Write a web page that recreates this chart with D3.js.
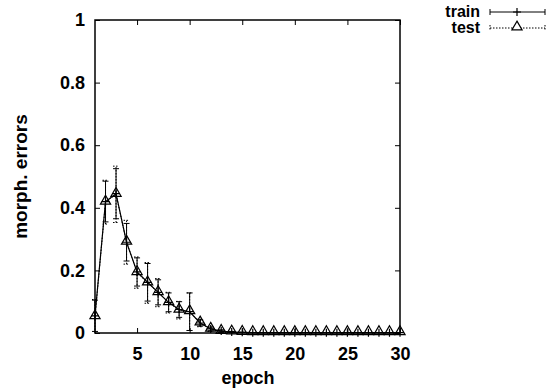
<!DOCTYPE html>
<html>
<head>
<meta charset="utf-8">
<script src="https://cdn.jsdelivr.net/npm/d3@7"></script>
<style>
body { margin: 0; background: #fff; }
text { font-family: "Liberation Sans", Arial, sans-serif; font-weight: bold; fill: #000; }
</style>
</head>
<body>
<script>
const width = 548, height = 389
const margin = {top: 20, right: 148, bottom: 56, left: 95}

const epochs = d3.range(1, 31)
const trainMean = [0.055, 0.42, 0.445, 0.29, 0.195, 0.162, 0.13, 0.098, 0.075, 0.068, 0.032, 0.013, 0.006, 0.003, 0.002,
    0.001, 0.001, 0.001, 0.001, 0.001, 0.001, 0.001, 0.001, 0.001, 0.001, 0.001, 0.001, 0.001, 0.001, 0.001]
const trainErr = [0.05, 0.065, 0.08, 0.06, 0.045, 0.06, 0.04, 0.03, 0.025, 0.06, 0.01, 0.006, 0.004, 0.002, 0,
    0, 0, 0, 0, 0, 0, 0, 0, 0, 0, 0, 0, 0, 0, 0]
const testMean = [0.052, 0.418, 0.443, 0.29, 0.193, 0.16, 0.129, 0.097, 0.073, 0.068, 0.032, 0.012, 0.005, 0.003, 0.002,
    0.001, 0.001, 0.001, 0.001, 0.001, 0.001, 0.001, 0.001, 0.001, 0.001, 0.001, 0.001, 0.001, 0.001, 0.001]
const testErr = [0.055, 0.07, 0.09, 0.07, 0.05, 0.065, 0.045, 0.033, 0.028, 0.06, 0.012, 0.007, 0.004, 0.002, 0,
    0, 0, 0, 0, 0, 0, 0, 0, 0, 0, 0, 0, 0, 0, 0]
const xTicks = [5, 10, 15, 20, 25, 30]
const yTicks = [0, 0.2, 0.4, 0.6, 0.8, 1]

const svg = d3.select("body").append("svg")
    .attr("width", width)
    .attr("height", height)

const w = width - margin.left - margin.right
const h = height - margin.top - margin.bottom
const g = svg.append("g").attr("transform", `translate(${margin.left},${margin.top})`)

const x = d3.scaleLinear().domain([1, 30]).range([0, w])
const y = d3.scaleLinear().domain([0, 1]).range([h, 0])

// axes, ticks drawn inward on all four sides
const fmtY = d => d === 0 ? "0" : d === 1 ? "1" : d3.format(".1f")(d)
g.append("g").attr("transform", `translate(0,${h})`)
    .call(d3.axisBottom(x).tickValues(xTicks).tickSizeInner(-5).tickSizeOuter(0).tickPadding(14))
g.append("g").call(d3.axisTop(x).tickValues(xTicks).tickSizeInner(-5).tickSizeOuter(0).tickFormat(""))
g.append("g").call(d3.axisLeft(y).tickValues(yTicks).tickSizeInner(-5).tickSizeOuter(0).tickPadding(10).tickFormat(fmtY))
g.append("g").attr("transform", `translate(${w},0)`)
    .call(d3.axisRight(y).tickValues(yTicks).tickSizeInner(-5).tickSizeOuter(0).tickFormat(""))
g.selectAll(".domain").remove()
g.selectAll(".tick line").attr("stroke", "#000")
g.selectAll(".tick text").style("font-size", "18px").attr("fill", "#000")

g.append("rect").attr("width", w).attr("height", h)
    .attr("fill", "none").attr("stroke", "#000").attr("stroke-width", 1.5)

// axis labels
svg.append("text")
    .attr("transform", `translate(27,${margin.top + h / 2}) rotate(-90)`)
    .attr("text-anchor", "middle")
    .style("font-size", "19px")
    .text("morph. errors")
svg.append("text")
    .attr("x", 248).attr("y", 384)
    .attr("text-anchor", "middle")
    .style("font-size", "18px")
    .text("epoch")

function errorBars(mean, err, dash) {
    const data = epochs.map((e, i) => ({e, m: mean[i], s: err[i]})).filter(d => d.s > 0)
    const eb = g.append("g").attr("stroke", "#000").attr("stroke-width", 1)
        .attr("stroke-dasharray", dash)
    eb.selectAll(".v").data(data).enter().append("line")
        .attr("x1", d => x(d.e)).attr("x2", d => x(d.e))
        .attr("y1", d => y(Math.max(0, d.m - d.s))).attr("y2", d => y(d.m + d.s))
    eb.selectAll(".t").data(data).enter().append("line")
        .attr("x1", d => x(d.e) - 3).attr("x2", d => x(d.e) + 3)
        .attr("y1", d => y(d.m + d.s)).attr("y2", d => y(d.m + d.s))
    eb.selectAll(".b").data(data.filter(d => d.m - d.s > 0)).enter().append("line")
        .attr("x1", d => x(d.e) - 3).attr("x2", d => x(d.e) + 3)
        .attr("y1", d => y(d.m - d.s)).attr("y2", d => y(d.m - d.s))
}

errorBars(testMean, testErr, "1.5,1.5")
errorBars(trainMean, trainErr, null)

const line = d3.line().x((d, i) => x(epochs[i])).y(d => y(d))

g.append("path").datum(trainMean).attr("d", line)
    .attr("fill", "none").attr("stroke", "#000").attr("stroke-width", 1.2)
g.append("path").datum(testMean).attr("d", line)
    .attr("fill", "none").attr("stroke", "#000").attr("stroke-width", 1).attr("stroke-dasharray", "1.5,1.5")

const tri = d3.symbol().type(d3.symbolTriangle).size(45)
const plusPath = d3.line()([[-4, 0], [4, 0], [0, 0], [0, -4], [0, 4]])

// train markers: plus
g.selectAll(".plus").data(trainMean).enter().append("path")
    .attr("transform", (d, i) => `translate(${x(epochs[i])},${y(d)})`)
    .attr("d", plusPath)
    .attr("fill", "none").attr("stroke", "#000").attr("stroke-width", 1.2)

// test markers: triangle
g.selectAll(".tri").data(testMean).enter().append("path")
    .attr("transform", (d, i) => `translate(${x(epochs[i])},${y(d) - 1})`)
    .attr("d", tri)
    .attr("fill", "none").attr("stroke", "#000").attr("stroke-width", 1.2)

// legend
const legend = svg.append("g")
const items = [{name: "train", y: 12, dash: null, mark: "plus"}, {name: "test", y: 28, dash: "1.5,1.5", mark: "tri"}]
items.forEach(it => {
    legend.append("text").attr("x", 480).attr("y", it.y + 5)
        .attr("text-anchor", "end").style("font-size", "16px").text(it.name)
    legend.append("line").attr("x1", 490).attr("x2", 545).attr("y1", it.y).attr("y2", it.y)
        .attr("stroke", "#000").attr("stroke-width", 1).attr("stroke-dasharray", it.dash)
    legend.append("line").attr("x1", 490).attr("x2", 490).attr("y1", it.y - 3).attr("y2", it.y + 3)
        .attr("stroke", "#000").attr("stroke-dasharray", it.dash)
    legend.append("line").attr("x1", 545).attr("x2", 545).attr("y1", it.y - 3).attr("y2", it.y + 3)
        .attr("stroke", "#000").attr("stroke-dasharray", it.dash)
    if (it.mark === "plus") {
        legend.append("path").attr("transform", `translate(517,${it.y})`)
            .attr("d", plusPath)
            .attr("fill", "none").attr("stroke", "#000").attr("stroke-width", 1.2)
    } else {
        legend.append("path").attr("transform", `translate(517,${it.y - 1})`)
            .attr("d", tri).attr("fill", "#fff").attr("stroke", "#000").attr("stroke-width", 1.2)
    }
})
</script>
</body>
</html>
